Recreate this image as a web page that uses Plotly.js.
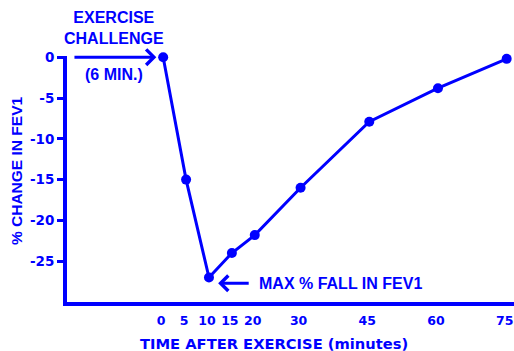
<!DOCTYPE html>
<html><head><meta charset="utf-8">
<script src="https://cdn.plot.ly/plotly-3.0.1.min.js"></script>
<style>html,body{margin:0;padding:0;background:#fff}#c{width:514px;height:351px}</style>
</head><body><div id="c"></div>
<script>
const minutes = [0, 5, 10, 15, 20, 30, 45, 60, 75];
const fevChange = [0, -15, -27, -24, -21.8, -16, -7.9, -3.8, -0.2];
const xTickVals = [0, 5, 10, 15, 20, 30, 45, 60, 75];
const yTickVals = [0, -5, -10, -15, -20, -25];
const BLUE = '#0000ff';
const FONT = 'Liberation Sans, Arial, sans-serif';
const TICKFONT = 'DejaVu Sans, sans-serif';

const trace = {
  x: minutes, y: fevChange, mode: 'lines+markers', type: 'scatter',
  line: {color: BLUE, width: 3},
  marker: {color: BLUE, size: 10},
  cliponaxis: false, hoverinfo: 'none'
};

const layout = {
  width: 514, height: 351,
  margin: {l: 67, r: 0, t: 56, b: 49, pad: 0},
  paper_bgcolor: '#fff', plot_bgcolor: '#fff',
  showlegend: false,
  font: {family: FONT, color: BLUE},
  xaxis: {
    range: [-21, 76.6], tickvals: xTickVals, ticktext: xTickVals.map(String),
    showgrid: false, zeroline: false, showline: true, linecolor: BLUE, linewidth: 4,
    ticks: '', ticklabelstandoff: 4, ticklabeloverflow: 'allow', ticklabelshift: -2,
    tickfont: {family: TICKFONT, size: 12.5, color: BLUE, weight: 'bold'}
  },
  yaxis: {
    range: [-30, 0.15], tickvals: yTickVals, ticktext: yTickVals.map(String),
    showgrid: false, zeroline: false, showline: true, linecolor: BLUE, linewidth: 4,
    ticks: 'outside', ticklen: 6, tickwidth: 3, tickcolor: BLUE,
    tickfont: {family: TICKFONT, size: 13.5, color: BLUE, weight: 'bold'}
  },
  annotations: [
    {x: 0.463, y: -0.1667, xref: 'paper', yref: 'paper', text: '<b>TIME AFTER EXERCISE (minutes)</b>',
     showarrow: false, xanchor: 'center', yanchor: 'middle',
     font: {family: 'DejaVu Sans, sans-serif', size: 14.7, color: BLUE}},
    {x: -0.114, y: 0.5325, xref: 'paper', yref: 'paper', text: '<b>% CHANGE IN FEV1</b>',
     showarrow: false, textangle: -90, xanchor: 'center', yanchor: 'middle',
     font: {family: FONT, size: 15.5, color: BLUE}},
    {x: -10.8, y: 1.1134, xref: 'x', yref: 'paper', text: '<b>EXERCISE<br>CHALLENGE</b>', showarrow: false,
     yanchor: 'middle', font: {family: FONT, size: 16, color: BLUE}, align: 'center'},
    {x: -1.5, y: 0, xref: 'x', yref: 'y', ax: -19.7, ay: 0, axref: 'x', ayref: 'y', text: '',
     showarrow: true, arrowhead: 4, arrowsize: 1, arrowwidth: 3, arrowcolor: BLUE},
    {x: -10.8, y: -2.1, xref: 'x', yref: 'y', text: '<b>(6 MIN.)</b>', showarrow: false,
     font: {family: FONT, size: 16, color: BLUE}},
    {x: 20.4, y: -27.7, xref: 'x', yref: 'y', text: '<b>MAX % FALL IN FEV1</b>', showarrow: false,
     xanchor: 'left', font: {family: FONT, size: 16, color: BLUE}},
    {x: 12.0, y: -27.7, xref: 'x', yref: 'y', ax: 19.0, ay: -27.7, axref: 'x', ayref: 'y', text: '',
     showarrow: true, arrowhead: 4, arrowsize: 1, arrowwidth: 3, arrowcolor: BLUE}
  ]
};
Plotly.newPlot('c', [trace], layout, {displayModeBar: false, staticPlot: true});
</script></body></html>
